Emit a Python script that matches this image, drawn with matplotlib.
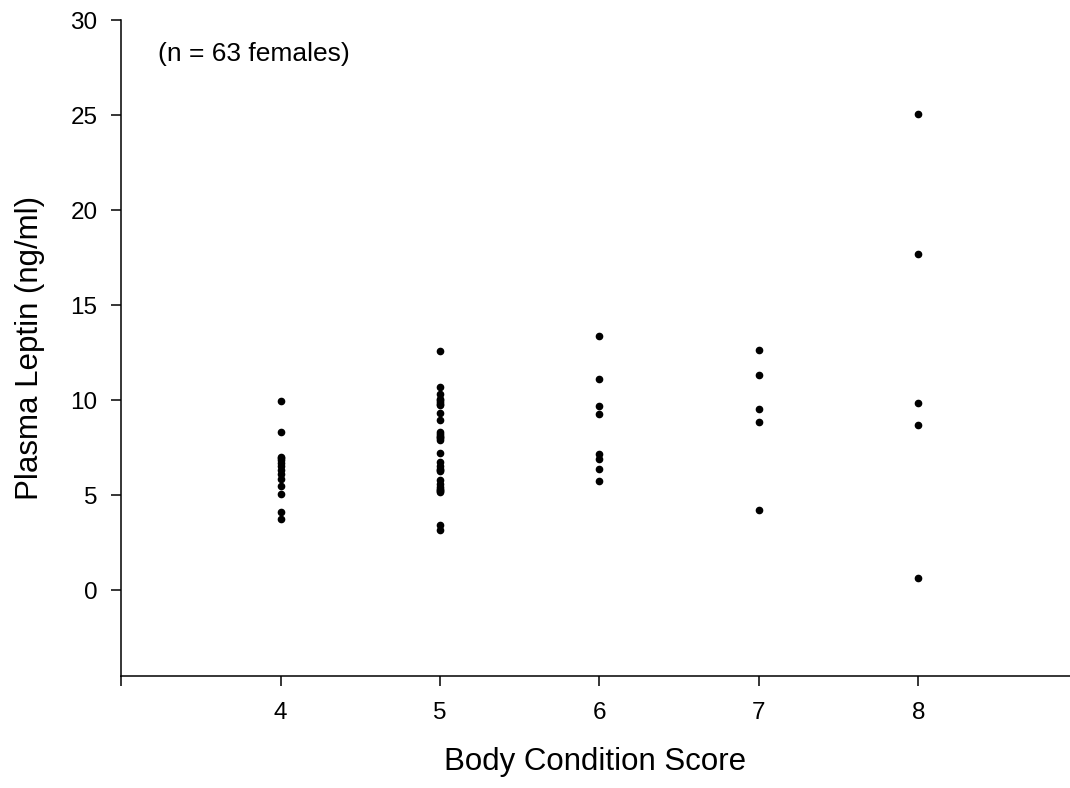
import matplotlib
matplotlib.use("Agg")
import matplotlib.pyplot as plt

plt.rcParams['font.family'] = ['Liberation Sans', 'DejaVu Sans']

# body condition score groups and leptin values
bcs4 = [9.96, 8.33, 7.02, 6.95, 6.85, 6.7, 6.55, 6.35, 6.1, 5.85, 5.5, 5.05, 4.15, 3.75]
bcs5 = [12.6, 10.7, 10.35, 10.05, 10.0, 9.9, 9.8, 9.75, 9.35, 8.95, 8.35, 8.25,
        8.1, 8.05, 8.0, 7.9, 7.25, 6.75, 6.55, 6.4, 6.35, 6.3, 5.8, 5.6, 5.45,
        5.35, 5.3, 5.25, 5.2, 3.45, 3.2]
bcs6 = [13.37, 11.12, 9.7, 9.26, 7.19, 6.93, 6.37, 5.74]
bcs7 = [12.67, 11.35, 9.56, 8.86, 4.21]
bcs8 = [25.05, 17.68, 9.84, 8.68, 0.63]

groups = {4: bcs4, 5: bcs5, 6: bcs6, 7: bcs7, 8: bcs8}

fig = plt.figure(figsize=(10.7, 7.88), dpi=100)
ax = fig.add_axes([0.1131, 0.1421, 0.8869, 0.8325])

for score, vals in groups.items():
    ax.plot([score] * len(vals), vals, 'o', color='black', markersize=4.5,
            linestyle='none')

ax.set_xlim(3, 8.95)
ax.set_ylim(-4.5, 30)
ax.set_xticks([3, 4, 5, 6, 7, 8])
ax.set_xticklabels(['', '4', '5', '6', '7', '8'])
ax.set_yticks([0, 5, 10, 15, 20, 25, 30])

ax.spines['top'].set_visible(False)
ax.spines['right'].set_visible(False)
ax.spines['left'].set_linewidth(1.1)
ax.spines['bottom'].set_linewidth(1.1)
ax.tick_params(axis='x', direction='out', length=7, width=1.1, pad=12, labelsize=17.5)
ax.tick_params(axis='y', direction='out', length=7, width=1.1, pad=10, labelsize=17.5)

ax.set_xlabel('Body Condition Score', fontsize=22.5, labelpad=16)
ax.set_ylabel('Plasma Leptin (ng/ml)', fontsize=22.5, labelpad=18)

ax.text(3.23, 28.2, '(n = 63 females)', fontsize=19, ha='left', va='center')

fig.savefig('out.png', dpi=100)
